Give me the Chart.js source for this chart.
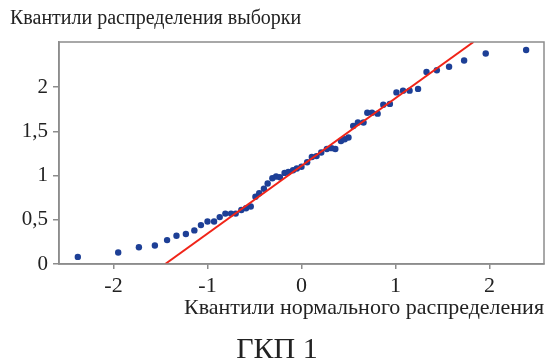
<!DOCTYPE html>
<html>
<head>
<meta charset="utf-8">
<script src="https://cdn.jsdelivr.net/npm/chart.js@4"></script>
<style>
  body { margin: 0; background: #fff; }
  #wrap { width: 556px; height: 359px; }
</style>
</head>
<body>
<div id="wrap"><canvas id="qq" width="556" height="359"></canvas></div>
<script>
// theoretical (normal) quantiles
const sampleX = [
  -2.38, -1.95, -1.73, -1.56, -1.43, -1.33, -1.23, -1.14, -1.07, -1.00,
  -0.93, -0.87, -0.81, -0.75, -0.70, -0.64, -0.59, -0.54, -0.49, -0.45,
  -0.40, -0.36, -0.31, -0.27, -0.23, -0.18, -0.14, -0.09, -0.05, 0.00,
  0.06, 0.11, 0.16, 0.21, 0.27, 0.32, 0.36, 0.42, 0.46, 0.50,
  0.55, 0.60, 0.66, 0.70, 0.75, 0.81, 0.87, 0.94, 1.01, 1.08,
  1.15, 1.24, 1.33, 1.44, 1.57, 1.73, 1.96, 2.39
];
// sample quantiles
const sampleY = [
  0.08, 0.13, 0.19, 0.21, 0.27, 0.32, 0.34, 0.38, 0.44, 0.48,
  0.48, 0.53, 0.57, 0.57, 0.57, 0.61, 0.63, 0.65, 0.76, 0.80,
  0.85, 0.91, 0.97, 0.99, 0.98, 1.03, 1.04, 1.06, 1.08, 1.10,
  1.15, 1.21, 1.22, 1.26, 1.30, 1.31, 1.30, 1.39, 1.41, 1.43,
  1.56, 1.60, 1.60, 1.71, 1.71, 1.70, 1.80, 1.81, 1.94, 1.96,
  1.96, 1.98, 2.17, 2.19, 2.23, 2.30, 2.38, 2.42
];
// reference line end points
const lineX = [-1.45, 1.83];
const lineY = [0, 2.51];

const xTicks = [-2, -1, 0, 1, 2];
const yTicks = [0, 0.5, 1, 1.5, 2];

const serif = 'Liberation Serif';
const axisColor = '#8c8c8c';

// box round the plot area (top and right sides)
const frame = {
  id: 'frame',
  afterDraw(chart) {
    const { ctx, chartArea: a } = chart;
    ctx.save();
    ctx.strokeStyle = axisColor;
    ctx.lineWidth = 1.5;
    ctx.strokeRect(a.left, a.top, a.right - a.left, a.bottom - a.top);
    ctx.restore();
  }
};

const main = () => {
  const canvas = document.getElementById('qq');

  const points = sampleX.map((x, i) => ({ x, y: sampleY[i] }));
  const line = lineX.map((x, i) => ({ x, y: lineY[i] }));

  new Chart(canvas, {
    type: 'scatter',
    data: {
      datasets: [{
        type: 'line',
        data: line,
        borderColor: '#f02418',
        borderWidth: 2,
        pointRadius: 0,
        fill: false
      },
      {
        data: points,
        backgroundColor: '#1d3f96',
        borderColor: '#1d3f96',
        pointRadius: 3.2,
        borderWidth: 0
      }]
    },
    options: {
      responsive: false,
      animation: false,
      layout: { padding: { left: 10, right: 12, top: 0, bottom: 0 } },
      plugins: {
        legend: { display: false },
        tooltip: { enabled: false },
        title: {
          display: true,
          text: 'Квантили распределения выборки',
          align: 'start',
          color: '#222',
          font: { family: serif, size: 20, weight: 'normal', lineHeight: 1.2 },
          padding: { top: 7, bottom: 11 }
        },
        subtitle: {
          display: true,
          position: 'bottom',
          text: 'ГКП 1',
          color: '#222',
          font: { family: serif, size: 30, weight: 'normal', lineHeight: 0.6 },
          padding: { top: 17, bottom: 0 }
        }
      },
      scales: {
        x: {
          type: 'linear',
          min: -2.58,
          max: 2.58,
          afterBuildTicks: (scale) => { scale.ticks = xTicks.map(v => ({ value: v })); },
          afterFit: (scale) => { scale.height = 60; },
          grid: { drawOnChartArea: false, color: axisColor, tickLength: 5, lineWidth: 1.5 },
          border: { color: axisColor, width: 1.5 },
          ticks: {
            color: '#222',
            padding: 4,
            maxRotation: 0,
            font: { family: serif, size: 22 },
            callback: (v) => String(v)
          },
          title: {
            display: true,
            text: 'Квантили нормального распределения',
            align: 'end',
            color: '#222',
            font: { family: serif, size: 22, lineHeight: 1 },
            padding: { top: 0, bottom: 5 }
          }
        },
        y: {
          type: 'linear',
          min: 0,
          max: 2.51,
          afterBuildTicks: (scale) => { scale.ticks = yTicks.map(v => ({ value: v })); },
          afterFit: (scale) => { scale.width = 49; },
          grid: { drawOnChartArea: false, color: axisColor, tickLength: 6, lineWidth: 1.5 },
          border: { color: axisColor, width: 1.5 },
          ticks: {
            color: '#222',
            padding: 5,
            font: { family: serif, size: 21 },
            callback: (v) => String(v).replace('.', ',')
          }
        }
      }
    },
    plugins: [frame]
  });
}

main();
</script>
</body>
</html>
